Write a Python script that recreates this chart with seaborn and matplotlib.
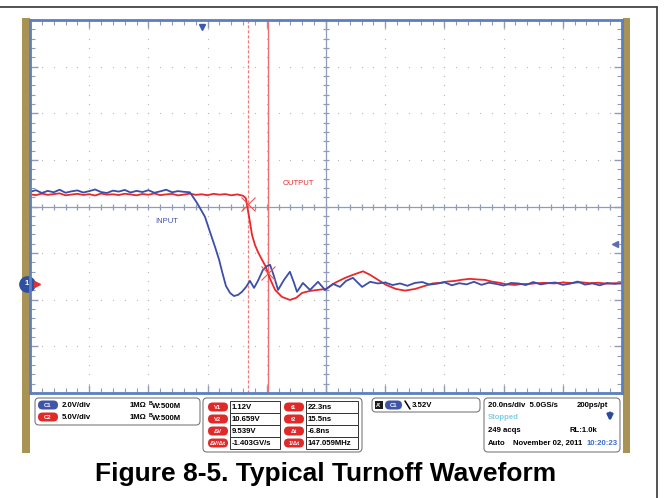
# oscilloscope capture: typical turnoff waveform (input = C1, output = C2)
import numpy as np
import matplotlib
matplotlib.use("Agg")
import matplotlib.pyplot as plt
from matplotlib.patches import FancyBboxPatch, Rectangle
import seaborn as sns

sns.set_style("white")
plt.rcParams['font.family'] = ['Liberation Sans', 'DejaVu Sans']

# ---- waveform data (time in ns from left edge of screen, volts) ----
# C1 input, 2.0 V/div
blue_t = [0, 2, 4, 6, 8, 10, 12, 14, 16, 18, 20, 22, 24, 26, 28, 30, 32, 34, 36, 38,
          40, 42, 44, 46, 48, 50, 52, 54,
          56.4, 59.1, 60.8, 62.5, 63.9, 64.9, 66.2, 67.6, 68.9, 70.3, 71.6, 73.0, 74.3,
          75.7, 77.0, 78.7, 80.1, 81.1, 82.4, 83.8, 85.8, 87.8, 89.2, 90.2, 92.2, 94.6,
          97.3, 99.7, 102.4, 104.7, 106.8, 109.1, 112.2, 114.9, 117.5,
          120, 122.5, 125, 127.5, 130, 132.5, 135, 137.5, 140, 142.5, 145, 147.5, 150,
          152.5, 155, 157.5, 160, 162.5, 165, 167.5, 170, 172.5, 175, 177.5, 180, 182.5,
          185, 187.5, 190, 192.5, 195, 197.5, 200]
blue_v = [3.95, 4.02, 3.90, 3.99, 3.93, 4.04, 3.91, 3.97, 4.01, 3.92, 3.98, 4.05, 3.94,
          3.90, 4.00, 3.96, 4.03, 3.92, 3.99, 3.94, 4.02, 3.91, 3.97, 4.04, 3.93, 3.98,
          3.95, 3.93,
          3.48, 2.88, 2.23, 1.59, 1.03, 0.52, -0.09, -0.39, -0.52, -0.47, -0.34, -0.13, 0.13,
          -0.17, 0.13, 0.60, 0.77, 0.82, 0.34, -0.26, 0.17, 0.52, 0.04, -0.34, 0.04, -0.26,
          0.09, -0.26, 0.0, -0.13, 0.13, 0.26, -0.13, 0.09, 0.02,
          0.06, -0.05, 0.02, -0.08, 0.04, 0.08, -0.03, 0.01, 0.07, -0.06, 0.03, -0.02, 0.09,
          -0.04, 0.05, 0.0, -0.07, 0.04, 0.02, -0.05, 0.08, -0.02, 0.03, 0.06, -0.04, 0.01,
          0.10, -0.03, 0.02, -0.06, 0.04, 0.0, 0.03]

# C2 output, 5.0 V/div
red_t = [0, 2, 4, 6, 8, 10, 12, 14, 16, 18, 20, 22, 24, 26, 28, 30, 32, 34, 36, 38,
         40, 42, 44, 46, 48, 50, 52, 54, 56, 58, 60, 62, 64, 66, 68, 70, 72,
         72.9, 73.6, 74.3, 75.0, 76.0, 77.0, 78.4, 79.7, 80.3, 81.1, 82.8, 85.1, 87.8,
         89.9, 91.9, 94.6, 97.3, 100.0, 103.0, 106.4, 109.1, 112.5, 114.9, 117.6, 120.3,
         123.6, 126.7, 130.1, 133.4, 136, 138.5, 141, 143.6, 146, 148.6, 151, 153.7, 156,
         158.8, 161, 163.9, 166, 168.9, 171, 174, 177, 180, 183, 186, 189, 192, 195, 198, 200]
red_v = [9.60, 9.52, 9.68, 9.55, 9.63, 9.71, 9.50, 9.58, 9.66, 9.54, 9.62, 9.48, 9.69,
         9.57, 9.61, 9.53, 9.67, 9.59, 9.50, 9.64, 9.56, 9.70, 9.52, 9.60, 9.65, 9.49,
         9.58, 9.68, 9.55, 9.61, 9.51, 9.66, 9.57, 9.63, 9.50, 9.60, 9.45,
         9.20, 7.94, 6.65, 5.26, 4.18, 3.43, 2.58, 1.82, 1.20, 0.54, -0.64, -1.39, -1.72,
         -1.50, -0.97, -0.75, -0.64, -0.54, 0.11, 0.64, 0.97, 1.35, 0.97, 0.43, -0.11,
         -0.54, -0.72, -0.54, -0.21, 0.05, 0.11, 0.25, 0.32, 0.45, 0.54, 0.48, 0.43, 0.25,
         0.11, -0.05, -0.11, -0.02, 0.0, 0.08, 0.11, 0.05, 0.15, 0.10, 0.18, 0.08, 0.12,
         0.02, 0.08, 0.05]

ch1_scale, ch2_scale = 2.0, 5.0     # V/div
ground_div = -1.66                  # both grounds sit 1.66 div below centre
cursor_t = [73.5, 80.3]             # t2 (dashed), t1 (solid)
cursor_v = [8.58, 1.12]             # cursor crossings on C2

blue_div = np.array(blue_v) / ch1_scale + ground_div
red_div = np.array(red_v) / ch2_scale + ground_div

W, H = 665, 498
fig = plt.figure(figsize=(W / 100, H / 100), dpi=100)

# background overlay in pixel coordinates
ov = fig.add_axes([0, 0, 1, 1])
ov.set_xlim(0, W)
ov.set_ylim(H, 0)
ov.axis('off')
ov.set_zorder(0)

ov.plot([0, 657], [7, 7], color='#444444', lw=1.3)
ov.plot([657, 657], [7, H], color='#444444', lw=1.3)
gold = '#a89254'
ov.add_patch(Rectangle((22, 18), 7.5, 435, fc=gold, ec='none'))
ov.add_patch(Rectangle((622.5, 18), 7.5, 435, fc=gold, ec='none'))

# ---- scope screen ----
ax = fig.add_axes([30 / W, 1 - 393 / H, 592 / W, 373 / H])
ax.set_zorder(2)
ax.set_xlim(0, 200)
ax.set_ylim(-4, 4)

grid_c = '#b9b9b9'
minor_t = np.arange(0, 200.1, 4)
minor_d = np.arange(-4, 4.01, 0.2)
for gt in range(20, 200, 20):
    if gt != 100:
        ax.scatter(np.full(len(minor_d), gt), minor_d, s=0.8, color=grid_c, lw=0)
for gd in range(-3, 4):
    if gd != 0:
        ax.scatter(minor_t, np.full(len(minor_t), gd), s=0.8, color=grid_c, lw=0)

cross_c = '#8f9bb8'
ax.axvline(100, color=cross_c, lw=0.9)
ax.axhline(0, color=cross_c, lw=0.9)
ax.plot(np.full(len(minor_d), 100), minor_d, ls='none', marker='_', ms=5, mew=0.9, color=cross_c)
ax.plot(minor_t, np.zeros(len(minor_t)), ls='none', marker='|', ms=5, mew=0.9, color=cross_c)

ax.set_xticks(np.arange(0, 201, 20))
ax.set_xticks(minor_t, minor=True)
ax.set_yticks(np.arange(-4, 5, 1))
ax.set_yticks(minor_d, minor=True)
ax.tick_params(which='both', direction='in', top=True, right=True, left=True, bottom=True,
               labelbottom=False, labelleft=False, color=cross_c)
ax.tick_params(which='major', length=6, width=1)
ax.tick_params(which='minor', length=3.5, width=0.8)
for sp in ax.spines.values():
    sp.set_color('#5b7fc0')
    sp.set_linewidth(2)

# cursors
ax.axvline(cursor_t[0], color='#f07a7a', lw=0.9, ls=(0, (2.5, 1.5)))
ax.axvline(cursor_t[1], color='#f07070', lw=1.0)

red_c = '#e8282c'
blue_c = '#3b4ea8'
sns.lineplot(x=red_t, y=red_div, ax=ax, color=red_c, lw=1.3, sort=False, estimator=None)
sns.lineplot(x=blue_t, y=blue_div, ax=ax, color=blue_c, lw=1.3, sort=False, estimator=None)

ax.plot(cursor_t, np.array(cursor_v) / ch2_scale + ground_div, ls='none', marker='x',
        ms=10, mew=0.8, color='#f05050')

ax.text(85.5, 0.50, 'OUTPUT', color=red_c, fontsize=5.5, va='center')
ax.text(42.2, -0.33, 'INPUT', color=blue_c, fontsize=5.5, va='center')

# markers at the screen edges
ax.plot(58, 3.86, marker='v', ms=5, color='#3a5ab0', clip_on=False)
ax.plot(-1.0, ground_div, marker='o', ms=11, color='#2f4fa0', clip_on=False)
ax.text(-1.0, ground_div, '1', color='white', fontsize=5.5, ha='center', va='center',
        fontweight='bold')
ax.plot(2.4, ground_div, marker='>', ms=4, color='#e03030', clip_on=False)
ax.plot(197.5, -0.80, marker='<', ms=4, color='#5a6fb0', clip_on=False)

# ---- readout panels ----
def rbox(x, y, w, h, ec='#7a7a7a', fc='white', r=4, lw=0.8):
    ov.add_patch(FancyBboxPatch((x, y), w, h, boxstyle=f'round,pad=0,rounding_size={r}',
                                fc=fc, ec=ec, lw=lw))

def pill(x, y, w, label, fc):
    rbox(x, y - 4.5, w, 9, ec='none', fc=fc, r=4.5)
    ov.text(x + w / 2, y, label, color='white', fontsize=4.2, ha='center', va='center',
            fontweight='bold')

def txt(x, y, s, color='black', size=5.6, ha='left'):
    ov.text(x, y, s, color=color, fontsize=size, ha=ha, va='center', fontweight='bold')

pill_blue = '#3e55a8'
pill_red = '#e02a2a'

# channel box
rbox(35, 398, 165, 27)
pill(38, 405, 20, 'C1', pill_blue)
txt(62, 405, '2.0V/div')
txt(130, 405, '1MΩ')
txt(149, 403, 'B', size=3.8)
txt(152, 406, 'W:500M')
pill(38, 417, 20, 'C2', pill_red)
txt(62, 417, '5.0V/div')
txt(130, 417, '1MΩ')
txt(149, 415, 'B', size=3.8)
txt(152, 418, 'W:500M')

# cursor box
rbox(203, 398, 159, 54)
v_labels = ['V1', 'V2', 'ΔV', 'ΔV/Δt']
v_values = ['1.12V', '10.659V', '9.539V', '-1.403GV/s']
t_labels = ['t1', 't2', 'Δt', '1/Δt']
t_values = ['22.3ns', '15.5ns', '-6.8ns', '147.059MHz']
for i in range(4):
    yc = 407 + 12 * i
    ov.add_patch(Rectangle((230, yc - 6), 50, 12, fc='white', ec='#333333', lw=0.7))
    ov.add_patch(Rectangle((306, yc - 6), 52, 12, fc='white', ec='#333333', lw=0.7))
    pill(208, yc, 20, v_labels[i], pill_red)
    pill(284, yc, 20, t_labels[i], pill_red)
    txt(232, yc, v_values[i])
    txt(308, yc, t_values[i])

# trigger box
rbox(372, 398, 108, 14)
ov.add_patch(Rectangle((375, 401), 8, 8, fc='#1a1a1a', ec='none'))
ov.text(379, 405, "A'", color='white', fontsize=4, ha='center', va='center', fontweight='bold')
pill(385, 405, 17, 'C1', pill_blue)
ov.plot([405, 410], [401, 409], color='black', lw=1.1)
txt(412, 405, '3.52V')

# horizontal / acquisition box
rbox(484, 398, 136, 54)
txt(488, 405, '20.0ns/div  5.0GS/s')
txt(577, 405, '200ps/pt')
txt(488, 417, 'Stopped', color='#7fcfe6')
ov.annotate('', xy=(610, 424), xytext=(610, 410),
            arrowprops=dict(arrowstyle='-|>', color='#2a4aa0', lw=2.0, mutation_scale=8))
txt(488, 430, '249 acqs')
txt(570, 430, 'RL:1.0k')
txt(488, 443, 'Auto')
txt(513, 443, 'November 02, 2011')
txt(587, 443, '10:20:23', color='#3a6ccc')

ov.text(326, 474, 'Figure 8-5. Typical Turnoff Waveform', fontsize=19, fontweight='bold',
        ha='center', va='center', color='black')

fig.savefig('out.png', dpi=100)
